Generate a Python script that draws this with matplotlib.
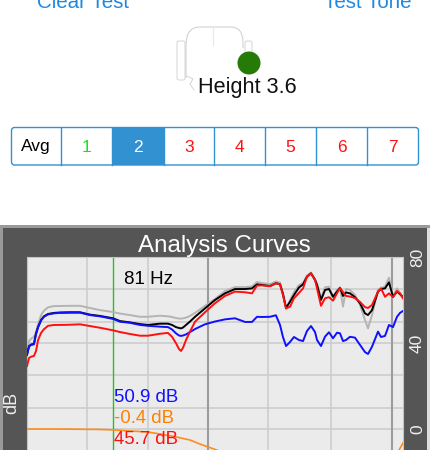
import numpy as np
import matplotlib
matplotlib.use('Agg')
import matplotlib.pyplot as plt
from matplotlib.patches import Rectangle, Circle, FancyBboxPatch
from matplotlib.path import Path
from matplotlib.patches import PathPatch

plt.rcParams['font.family'] = ['Liberation Sans', 'DejaVu Sans']

freq = [27.4, 28.1, 28.8, 29.9, 30.7, 31.5, 32.7, 33.9, 35.7, 38.5, 41.5, 47.1, 53.4, 60.5, 68.6, 80.9,
        88.3, 100.1, 113.6, 125.6, 146, 161.5, 169.9, 178.6, 185.4, 190.2, 195.1, 202.6, 213, 226.9, 257.2,
        291.7, 330.9, 375.2, 425.6, 464.7, 495, 527, 583, 628, 661, 686, 713, 750, 788, 839, 883, 928, 976,
        1027, 1053, 1107, 1165, 1224, 1288, 1354, 1406, 1460, 1516, 1595, 1698, 1809, 1925, 2000, 2103,
        2268, 2355, 2477, 2604, 2739, 2880, 2991, 3106]

gray_db = [36.7, 40.9, 42.0, 42.8, 45.1, 48.8, 53.0, 55.0, 56.6, 57.2, 57.2, 57.3, 57.3, 56.3, 55.3, 54.4,
           53.7, 53.0, 52.2, 52.2, 52.7, 52.4, 52.1, 51.6, 51.4, 51.3, 51.5, 51.8, 52.6, 54.0, 57.3,
           60.5, 64.2, 66.0, 66.0, 66.3, 68.4, 67.9, 67.4, 68.6, 68.1, 63.3, 55.8, 60.0, 63.7, 67.0, 67.9, 71.4, 72.8,
           69.8, 67.8, 60.8, 65.9, 66.2, 61.5, 64.7, 65.7, 56.9, 65.1, 64.7, 62.3, 57.7, 50.7, 46.8, 53.0,
           64.7, 65.7, 66.2, 70.4, 61.5, 65.4, 63.3, 61.3]

black_db = [34.6, 38.5, 39.3, 39.6, 44.4, 47.5, 50.7, 52.4, 53.5, 54.0, 54.2, 54.3, 54.3, 53.2, 52.6, 51.5,
            50.2, 49.6, 48.8, 48.4, 49.0, 49.0, 48.4, 47.4, 47.0, 46.8, 47.2, 48.4, 50.0, 52.2, 56.1,
            60.0, 63.1, 65.1, 65.1, 65.4, 67.3, 67.0, 66.5, 67.8, 67.3, 62.8, 56.4, 59.2, 62.3, 65.8, 67.3, 70.8, 72.4,
            69.3, 67.0, 60.0, 64.7, 65.1, 61.5, 63.9, 65.7, 61.9, 63.5, 63.1, 61.3, 58.5, 53.8, 53.0, 55.3,
            63.9, 65.1, 65.4, 68.2, 61.5, 63.9, 62.7, 61.3]

blue_db = [34.4, 38.3, 39.1, 39.4, 44.2, 47.3, 50.5, 52.2, 53.3, 53.8, 54.0, 54.1, 54.1, 53.0, 52.4, 51.2,
           49.9, 49.4, 48.4, 48.0, 47.6, 47.4, 46.3, 44.5, 43.5, 43.3, 43.5, 44.0, 45.1, 46.5, 48.7,
           50.0, 51.0, 51.5, 49.8, 49.8, 52.2, 52.1, 52.2, 52.9, 48.4, 42.8, 38.6, 40.5, 42.8, 41.4, 40.9, 45.6, 47.9,
           45.1, 41.4, 38.6, 43.0, 45.0, 42.2, 44.8, 44.5, 40.9, 41.4, 42.9, 42.5, 39.1, 35.8, 34.9, 38.3,
           45.3, 42.8, 43.3, 48.4, 47.4, 52.2, 54.0, 54.9]

red_db = [29.3, 33.0, 33.6, 34.0, 36.3, 41.4, 44.7, 46.4, 48.0, 48.4, 48.4, 48.5, 48.7, 47.9, 47.1, 45.9,
          45.1, 44.2, 43.4, 43.4, 44.3, 44.7, 42.9, 39.9, 37.2, 36.3, 37.8, 41.4, 45.3, 49.9, 54.3,
          58.5, 61.9, 63.9, 63.6, 63.1, 66.7, 66.8, 66.4, 67.8, 67.3, 62.3, 56.1, 56.9, 60.8, 63.3, 65.4, 70.8, 72.4,
          69.3, 65.4, 57.3, 60.8, 61.3, 59.7, 63.1, 65.7, 63.7, 61.9, 61.6, 60.9, 59.1, 56.7, 56.3, 57.7,
          63.9, 65.4, 61.5, 63.1, 61.3, 64.2, 63.1, 60.8]

# orange goes off the bottom of the shot, gap where it cant be seen
orange_freq = [27.4, 41.5, 68.6, 80.9, 100, 125.6, 146, 177, 213, 241.6, 299, 352, 600, 2810, 2954, 3106]
orange_db = [0, 0, -0.2, -0.4, -0.9, -1.4, -2.3, -3.6, -5.1, -7, -9.8, -13.5, np.nan, -13.5, -9.8, -6.5]

light_freq = [58.3, 125.6, 568, 1256]
dark_freq = [267, 2706]
grid_db = [0, 10, 25, 40, 50, 65]
db_ticks = [0, 40, 80]
cursor_freq = 80.9
readouts = ['50.9 dB', '-0.4 dB', '45.7 dB']
readout_colors = ['#1010ff', '#ff8000', '#ff1010']
seg_labels = ['Avg', '1', '2', '3', '4', '5', '6', '7']
seg_colors = ['black', '#22dd22', 'white', '#ff1010', '#ff1010', '#ff1010', '#ff1010', '#ff1010']
seg_edges = [11.5, 61, 112, 164, 214, 265, 316, 367, 418.5]

ui_blue = '#1f88e0'
seg_blue = '#3191d1'

fig = plt.figure(figsize=(4.3, 4.5), dpi=100, facecolor='white')

# whole figure in pixels for the app screen bits
ui = fig.add_axes([0, 0, 1, 1], zorder=0)
ui.set_xlim(0, 430)
ui.set_ylim(450, 0)
ui.axis('off')

ui.text(37, 8, 'Clear Test', color=ui_blue, fontsize=14.8, va='baseline')
ui.text(411, 8, 'Test Tone', color=ui_blue, fontsize=14.8, va='baseline', ha='right')

# headset
ui.add_patch(FancyBboxPatch((177, 41), 8, 39, boxstyle='round,pad=0,rounding_size=2', fc='none', ec='#d4d4d4', lw=0.7))
ui.add_patch(FancyBboxPatch((245, 41), 7, 20, boxstyle='round,pad=0,rounding_size=2', fc='none', ec='#d4d4d4', lw=0.7))
head = Path([(186, 78), (186, 60), (186, 45), (186, 27), (200, 27), (215, 27), (232, 27), (243, 28), (243, 42), (243, 48)],
            [Path.MOVETO, Path.LINETO, Path.LINETO, Path.CURVE3, Path.CURVE3, Path.LINETO, Path.LINETO, Path.CURVE3, Path.CURVE3, Path.LINETO])
ui.add_patch(PathPatch(head, fc='none', ec='#cccccc', lw=0.7))
ui.plot([187, 193, 190, 194], [76, 79, 84, 90], color='#d4d4d4', lw=0.7)
ui.plot([213, 213], [27, 45], color='#e8e8e8', lw=0.8)
ui.add_patch(Circle((249, 63), 11.5, fc='#267a07', ec='none'))
ui.text(198, 93, 'Height 3.6', color='#111111', fontsize=15.6, va='baseline')

# segmented control
ui.add_patch(Rectangle((seg_edges[2], 127.5), seg_edges[3] - seg_edges[2], 37.5, fc=seg_blue, ec='none'))
ui.add_patch(FancyBboxPatch((11.5, 127.5), 407, 37.5, boxstyle='round,pad=0,rounding_size=3', fc='none', ec=seg_blue, lw=1))
for e in seg_edges[1:-1]:
    ui.plot([e, e], [127.5, 165], color=seg_blue, lw=1)
for i in range(0, len(seg_labels)):
    ui.text((seg_edges[i] + seg_edges[i + 1]) / 2, 147, seg_labels[i], color=seg_colors[i],
            fontsize=12.5, ha='center', va='center')

# chart panel
ui.add_patch(Rectangle((0, 225), 430, 225, fc='#9a9a9a', ec='none'))
ui.add_patch(Rectangle((3, 228), 424, 222, fc='#555555', ec='none'))
ui.add_patch(Rectangle((427, 228), 3, 222, fc='#dddddd', ec='none'))

# axes run past the bottom of the picture, the shot is cut there
ax = fig.add_axes([27 / 430, -30 / 450, 376 / 430, 223 / 450], zorder=1, facecolor='#ebebeb')
ax.set_xscale('log')
ax.set_xlim(27.4, 3106)
ax.set_ylim(-23.7, 80)
ax.minorticks_off()
ax.set_xticks([])
ax.tick_params(axis='x', which='both', length=0, labelbottom=False)

for y in grid_db:
    ax.axhline(y, color='#cbcbcb', lw=1.1, zorder=1)
for f in light_freq:
    ax.axvline(f, color='#cbcbcb', lw=1.1, zorder=1)
for f in dark_freq:
    ax.axvline(f, color='#9c9c9c', lw=1.5, zorder=1)
ax.axvline(cursor_freq, color='#22c422', lw=1, zorder=2)

ax.plot(freq, gray_db, color='#b4b4b4', lw=1.4, zorder=3)
ax.plot(freq, black_db, color='black', lw=1.4, zorder=4)
ax.plot(freq, blue_db, color='#1010ff', lw=1.4, zorder=5)
ax.plot(orange_freq, orange_db, color='#ff8c1a', lw=1.2, zorder=5)
ax.plot(freq, red_db, color='#ff1010', lw=1.4, zorder=6)

for s in ax.spines.values():
    s.set_color('#c4c4c4')
    s.set_linewidth(0.8)

ax.yaxis.tick_right()
ax.set_yticks(db_ticks)
ax.tick_params(axis='y', length=0, pad=5, labelcolor='#eeeeee', labelsize=12.5)
for t in ax.get_yticklabels():
    t.set_rotation(90)
    t.set_va('center')

ax.set_ylabel('dB', color='#eeeeee', fontsize=13)
ax.yaxis.set_label_coords(-0.019, 0.345)
ax.set_title('Analysis Curves', color='white', fontsize=17.4, pad=1.5, x=0.525)

fig.text(124 / 430, 1 - 279 / 450, '81 Hz', color='black', fontsize=13.5, va='center', zorder=10)
readout_y = [401.5, 423, 444]
for i in range(0, len(readouts)):
    fig.text(114 / 430, 1 - readout_y[i] / 450, readouts[i], color=readout_colors[i], fontsize=13.4,
             va='baseline', zorder=8)

fig.savefig('out.png', dpi=100)
